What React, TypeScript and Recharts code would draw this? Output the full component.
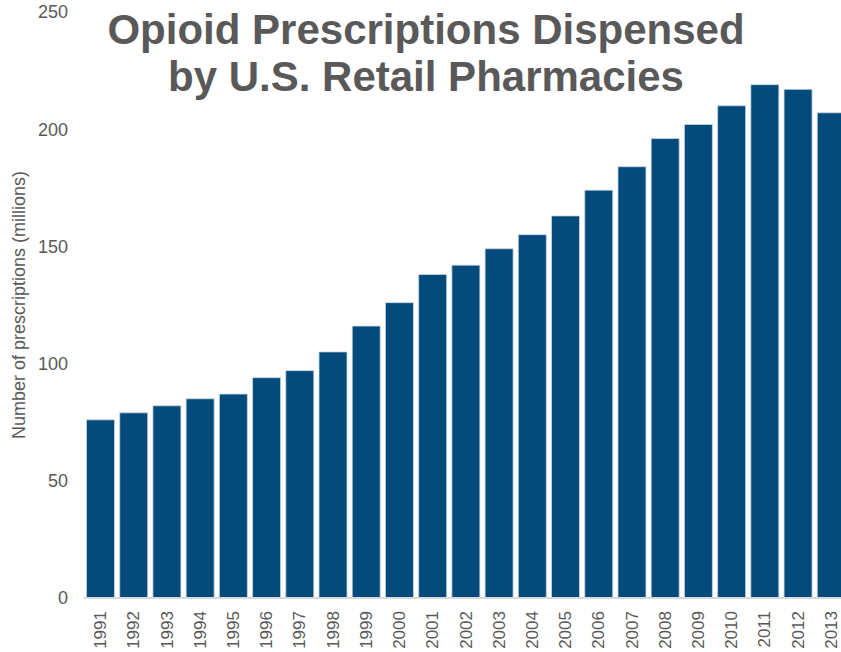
import React from 'react';
import { BarChart, Bar, XAxis, YAxis } from 'recharts';

// Years and prescriptions (millions)
const years = [
  '1991', '1992', '1993', '1994', '1995', '1996', '1997', '1998', '1999', '2000',
  '2001', '2002', '2003', '2004', '2005', '2006', '2007', '2008', '2009', '2010',
  '2011', '2012', '2013',
];
const prescriptions = [
  76, 79, 82, 85, 87, 94, 97, 105, 116, 126,
  138, 142, 149, 155, 163, 174, 184, 196, 202, 210,
  219, 217, 207,
];
const yTicks = [0, 50, 100, 150, 200, 250];

const colors = {
  bar: '#044b7b',
  barEdge: '#c9d6e2',
  text: '#595959',
  axis: '#d9d9d9',
};

const font = '"Liberation Sans", Arial, sans-serif';

function YearTick({ x, y, payload }: any) {
  return (
    <text
      x={x}
      y={y + 5}
      transform={`rotate(-90, ${x}, ${y + 5})`}
      textAnchor="end"
      dominantBaseline="central"
      fill={colors.text}
      fontSize={17}
      fontFamily={font}
    >
      {payload.value}
    </text>
  );
}

export default function App() {
  const data = years.map((year, i) => ({ year, value: prescriptions[i] }));

  return (
    <div
      style={{
        position: 'absolute',
        left: 0,
        top: 0,
        width: 841,
        height: 652,
        overflow: 'hidden',
        background: '#fff',
        fontFamily: font,
      }}
    >
      <BarChart
        width={850}
        height={652}
        data={data}
        margin={{ top: 12, right: 2, left: 0, bottom: 0 }}
        barCategoryGap="7.5%"
      >
        <XAxis
          dataKey="year"
          interval={0}
          height={54}
          tickLine={false}
          axisLine={{ stroke: colors.axis, strokeWidth: 2 }}
          tick={<YearTick />}
        />
        <YAxis
          width={84}
          domain={[0, 250]}
          ticks={yTicks}
          tickLine={false}
          axisLine={false}
          tickSize={0}
          tickMargin={16}
          tick={{ fill: colors.text, fontSize: 18, fontFamily: font }}
          label={{
            value: 'Number of prescriptions (millions)',
            angle: -90,
            position: 'insideLeft',
            dx: 14,
            dy: 0,
            style: { fill: colors.text, fontSize: 18, fontFamily: font, textAnchor: 'middle' },
          }}
        />
        <Bar
          dataKey="value"
          fill={colors.bar}
          stroke={colors.barEdge}
          strokeWidth={0.8}
          isAnimationActive={false}
        />
      </BarChart>
      <div
        style={{
          position: 'absolute',
          left: 0,
          top: 6,
          width: 852,
          textAlign: 'center',
          color: colors.text,
          fontWeight: 'bold',
          fontSize: 42,
          lineHeight: '47px',
        }}
      >
        <div>Opioid Prescriptions Dispensed</div>
        <div>by U.S. Retail Pharmacies</div>
      </div>
    </div>
  );
}
